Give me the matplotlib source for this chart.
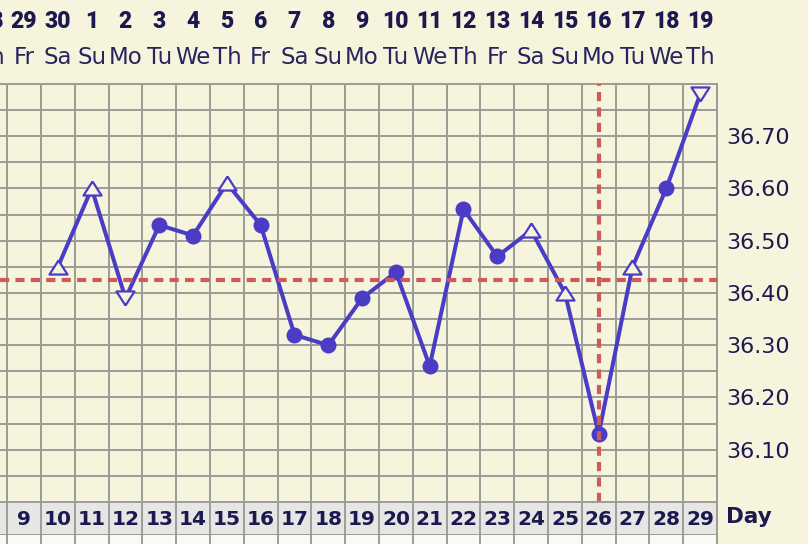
import numpy as np
import matplotlib

matplotlib.use("Agg")
import matplotlib.pyplot as plt

# ---- chart data -------------------------------------------------------------
days = list(range(10, 30))
temps = [36.45, 36.60, 36.39, 36.53, 36.51, 36.61, 36.53, 36.32, 36.30, 36.39,
         36.44, 36.26, 36.56, 36.47, 36.52, 36.40, 36.13, 36.45, 36.60, 36.78]
kinds = ["up", "up", "down", "dot", "dot", "up", "dot", "dot", "dot", "dot",
         "dot", "dot", "dot", "dot", "up", "up", "dot", "up", "dot", "down"]

col_days = list(range(8, 30))
dates = [28, 29, 30, 1, 2, 3, 4, 5, 6, 7, 8, 9, 10, 11, 12, 13, 14, 15, 16, 17, 18, 19]
weekdays = ["Th", "Fr", "Sa", "Su", "Mo", "Tu", "We", "Th", "Fr", "Sa", "Su",
            "Mo", "Tu", "We", "Th", "Fr", "Sa", "Su", "Mo", "Tu", "We", "Th"]
temp_labels = [36.10, 36.20, 36.30, 36.40, 36.50, 36.60, 36.70]
coverline = 36.425
ovulation_day = 26

# ---- style ------------------------------------------------------------------
BG = "#f7f4de"
GRID = "#9c9c98"
LINE = "#4a3cc4"
RED = "#cc5c5c"
NAVY = "#1c1850"

W, H = 808, 544
X0, X1 = 8.287, 29.5          # day coordinate at pixel 0 and at the right border (717 px)
RIGHT = 717 / W

fig = plt.figure(figsize=(W / 100, H / 100), dpi=100, facecolor=BG)

ax = fig.add_axes([0, (H - 502) / H, RIGHT, (502 - 84) / H], facecolor=BG)
ax.set_xlim(X0, X1)
ax.set_ylim(36.0, 36.8)
ax.set_xticks(np.arange(8.5, 29.6, 1.0))
ax.set_yticks(temp_labels)
ax.set_yticklabels([f"{t:.2f}" for t in temp_labels])
ax.set_yticks(np.arange(36.05, 36.8, 0.1), minor=True)
ax.tick_params(axis="x", length=0, labelbottom=False)
ax.tick_params(axis="y", which="both", length=0, labelleft=False, labelright=True,
               pad=6.5, labelsize=16, labelcolor=NAVY)
ax.grid(True, which="both", color=GRID, linewidth=1.4, zorder=0)
ax.set_axisbelow(True)
for side in ("top", "bottom", "right"):
    ax.spines[side].set_color(GRID)
    ax.spines[side].set_linewidth(1.4)
ax.spines["left"].set_visible(False)

# temperature curve and markers
ax.plot(days, temps, color=LINE, linewidth=2.9, zorder=3, solid_joinstyle="round")
tri_up = [(0, 0.78), (-1, -0.78), (1, -0.78), (0, 0.78)]
tri_dn = [(0, -0.78), (-1, 0.78), (1, 0.78), (0, -0.78)]
styles = {
    "dot": dict(marker="o", ms=11.5, mfc=LINE, mec=LINE, mew=0),
    "up": dict(marker=tri_up, ms=13, mfc=BG, mec=LINE, mew=1.6),
    "down": dict(marker=tri_dn, ms=13, mfc=BG, mec=LINE, mew=1.6),
}
for kind, st in styles.items():
    xs = [d for d, k in zip(days, kinds) if k == kind]
    ys = [t for t, k in zip(temps, kinds) if k == kind]
    ax.plot(xs, ys, linestyle="none", zorder=4, **st)

# coverline and ovulation line
ax.axhline(coverline, color=RED, linewidth=3, dashes=(2.2, 1.5), zorder=5)
ax.axvline(ovulation_day, color=RED, linewidth=3, dashes=(2.2, 1.5), zorder=5)

# header rows: dates and weekdays
for d, dt, wd in zip(col_days, dates, weekdays):
    xf = (d - X0) / (X1 - X0) * RIGHT
    fig.text(xf, 1 - 22 / H, str(dt), ha="center", va="center", fontsize=16.5,
             fontweight=900, family=["Roboto", "DejaVu Sans"], color=NAVY)
    fig.text(xf, 1 - 58 / H, wd, ha="center", va="center", fontsize=16.5,
             color="#27245e")

# day number row
dax = fig.add_axes([0, (H - 535) / H, RIGHT, 33 / H], facecolor="#e6e6e4")
dax.set_xlim(X0, X1)
dax.set_ylim(0, 1)
for xv in np.arange(8.5, 29.6, 1.0):
    dax.axvline(xv, color=GRID, linewidth=1.4)
for d in col_days:
    dax.text(d, 0.47, str(d), ha="center", va="center", fontsize=14.5,
             fontweight="bold", color=NAVY)
dax.set_xticks([])
dax.set_yticks([])
for side in ("top", "bottom", "right"):
    dax.spines[side].set_color(GRID)
    dax.spines[side].set_linewidth(1.4)
dax.spines["left"].set_visible(False)
fig.text(726 / W, 1 - 517 / H, "Day", ha="left", va="center", fontsize=15.5,
         fontweight="bold", color=NAVY)

# next row (cut off)
bax = fig.add_axes([0, 0, RIGHT, (H - 535) / H], facecolor="#fafaf4")
bax.set_xlim(X0, X1)
bax.set_ylim(0, 1)
for xv in np.arange(8.5, 29.6, 1.0):
    bax.axvline(xv, color=GRID, linewidth=1.4)
bax.set_xticks([])
bax.set_yticks([])
for side in ("top", "bottom", "left"):
    bax.spines[side].set_visible(False)
bax.spines["right"].set_color(GRID)
bax.spines["right"].set_linewidth(1.4)

fig.savefig("out.png", dpi=100, facecolor=BG)
